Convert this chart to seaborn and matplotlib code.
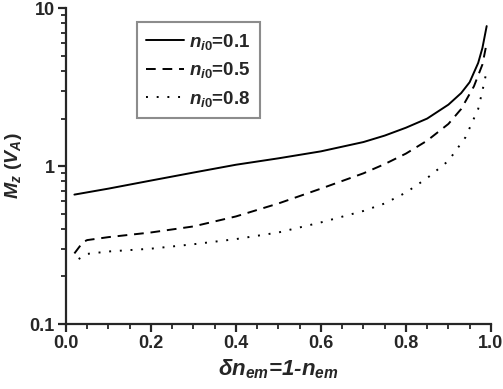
import matplotlib
matplotlib.use("Agg")
import matplotlib.pyplot as plt
import matplotlib.ticker as mticker
import seaborn as sns
import numpy as np

# Data
x_01 = [0.02, 0.1, 0.2, 0.3, 0.4, 0.5, 0.6, 0.7, 0.75, 0.8, 0.85, 0.9, 0.93, 0.95, 0.97, 0.98, 0.99]
y_01 = [0.66, 0.72, 0.81, 0.91, 1.02, 1.12, 1.24, 1.42, 1.56, 1.75, 2.0, 2.45, 2.9, 3.4, 4.5, 5.6, 7.7]

x_05 = [0.02, 0.04, 0.05, 0.1, 0.2, 0.3, 0.4, 0.5, 0.6, 0.7, 0.75, 0.8, 0.85, 0.9, 0.93, 0.96, 0.98, 0.99]
y_05 = [0.28, 0.33, 0.34, 0.355, 0.38, 0.415, 0.48, 0.58, 0.72, 0.90, 1.03, 1.20, 1.45, 1.85, 2.3, 3.2, 4.4, 6.0]

x_08 = [0.03, 0.05, 0.1, 0.2, 0.3, 0.4, 0.5, 0.6, 0.7, 0.75, 0.8, 0.85, 0.9, 0.94, 0.97, 0.98, 0.99]
y_08 = [0.258, 0.278, 0.288, 0.30, 0.32, 0.345, 0.38, 0.44, 0.52, 0.58, 0.68, 0.84, 1.08, 1.52, 2.3, 3.0, 4.0]

labels = ["0.1", "0.5", "0.8"]
x_ticks = [0.0, 0.2, 0.4, 0.6, 0.8, 1.0]
y_ticks = [0.1, 1, 10]
y_tick_labels = ["0.1", "1", "10"]

sns.set_style("ticks")
plt.rcParams["font.family"] = ["Liberation Sans", "DejaVu Sans"]
plt.rcParams["font.weight"] = "bold"
plt.rcParams["mathtext.fontset"] = "custom"
plt.rcParams["mathtext.it"] = "Liberation Sans:italic:bold"
plt.rcParams["mathtext.rm"] = "Liberation Sans:bold"
plt.rcParams["mathtext.bf"] = "Liberation Sans:bold"

fig = plt.figure(figsize=(5.03, 3.89), dpi=100)
ax = fig.add_axes([0.131, 0.167, 0.845, 0.812])

series = [(x_01, y_01, "-"), (x_05, y_05, (0, (5, 3.5))), (x_08, y_08, (0, (1, 4.5)))]
for (xs, ys, ls), lab in zip(series, labels):
    sns.lineplot(x=xs, y=ys, ax=ax, color="black", linewidth=1.4, linestyle=ls,
                 label=r"$n_{\mathit{i0}}$=" + lab)

ax.set_yscale("log")
ax.set_xlim(0.0, 1.0)
ax.set_ylim(0.1, 10)
ax.set_xticks(x_ticks)
ax.set_xticklabels([f"{v:.1f}" for v in x_ticks], fontweight="bold", fontsize=13)
ax.xaxis.set_minor_locator(mticker.MultipleLocator(0.05))
ax.set_yticks(y_ticks)
ax.set_yticklabels(y_tick_labels, fontweight="bold", fontsize=13)
ax.yaxis.set_minor_locator(mticker.LogLocator(base=10, subs=np.arange(2, 10)))
ax.yaxis.set_minor_formatter(mticker.NullFormatter())

for s in ["top", "right"]:
    ax.spines[s].set_visible(False)
for s in ["left", "bottom"]:
    ax.spines[s].set_linewidth(1.6)
ax.tick_params(which="major", direction="out", length=6, width=1.6, pad=2)
ax.tick_params(which="minor", direction="out", length=3.5, width=1.3)

ax.set_xlabel(r"$\delta n_{em}$=1-$n_{em}$", fontsize=16, fontstyle="italic",
              fontweight="bold", labelpad=4)
ax.set_ylabel(r"$M_z\ (V_A)$", fontsize=14, labelpad=4)

leg = ax.legend(loc="upper left", bbox_to_anchor=(0.145, 0.985), frameon=True,
                fancybox=False, edgecolor="#707070", prop={"size": 13.5, "weight": "bold"},
                handlelength=2.0, handletextpad=0.3, borderpad=0.5, labelspacing=0.45)
leg.get_frame().set_linewidth(1.5)

fig.savefig("out.png", dpi=100)
